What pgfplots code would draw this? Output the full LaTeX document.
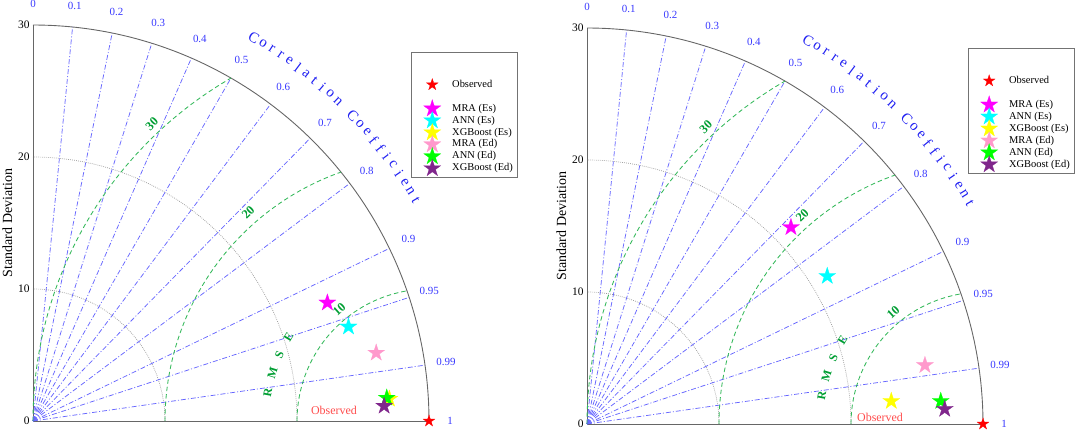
\documentclass[border=0pt]{standalone}
\usepackage{pgfplots}
\pgfplotsset{compat=1.18}
\usepackage{fontspec}
\setmainfont{Liberation Serif}
\usetikzlibrary{calc}

\pgfdeclareplotmark{fstar}{%
 \pgfpathmoveto{\pgfpointpolar{90}{\pgfplotmarksize}}%
 \pgfpathlineto{\pgfpointpolar{126}{0.382\pgfplotmarksize}}%
 \pgfpathlineto{\pgfpointpolar{162}{\pgfplotmarksize}}%
 \pgfpathlineto{\pgfpointpolar{198}{0.382\pgfplotmarksize}}%
 \pgfpathlineto{\pgfpointpolar{234}{\pgfplotmarksize}}%
 \pgfpathlineto{\pgfpointpolar{270}{0.382\pgfplotmarksize}}%
 \pgfpathlineto{\pgfpointpolar{306}{\pgfplotmarksize}}%
 \pgfpathlineto{\pgfpointpolar{342}{0.382\pgfplotmarksize}}%
 \pgfpathlineto{\pgfpointpolar{18}{\pgfplotmarksize}}%
 \pgfpathlineto{\pgfpointpolar{54}{0.382\pgfplotmarksize}}%
 \pgfpathclose
 \pgfusepathqfillstroke}

\definecolor{cline}{rgb}{0.4,0.4,1}
\definecolor{clab}{rgb}{0.22,0.22,1}
\definecolor{ctitle}{rgb}{0.12,0.12,0.95}
\definecolor{gline}{rgb}{0.2,0.72,0.35}
\definecolor{glab}{rgb}{0.0,0.62,0.2}
\definecolor{obslab}{rgb}{1,0.3,0.3}
\definecolor{cmag}{rgb}{1,0,1}
\definecolor{ccyan}{rgb}{0,1,1}
\definecolor{cyel}{rgb}{1,1,0}
\definecolor{cpink}{rgb}{1,0.6,0.8}
\definecolor{cgreen}{rgb}{0,1,0}
\definecolor{cpurp}{rgb}{0.5,0.15,0.55}

\pgfplotsset{
  corrl/.style={forget plot, cline, line width=0.75pt, dash pattern=on 5pt off 2pt on 1pt off 2pt},
  rmsel/.style={forget plot, gline, line width=0.85pt, dash pattern=on 4.5pt off 3pt},
  stdl/.style={forget plot, black!40, line width=0.7pt, dash pattern=on 0.8pt off 1.2pt},
  tstar/.style={only marks, mark=fstar, mark size=9bp,
    mark options={draw=#1, fill=#1, line width=0.2pt},
    legend image code/.code={\begin{pgfinterruptboundingbox}\draw[##1] plot coordinates {(18pt,0pt)};\end{pgfinterruptboundingbox}\path[draw=none,fill=none] (0pt,-5pt) rectangle (36pt,5pt);}},
  tobs/.style={tstar=red, mark size=6.2bp},
  taylor/.style={
    x=13.2bp, y=13.2bp, anchor=south west,
    xmin=0, xmax=30, ymin=0, ymax=30, clip=false,
    axis x line*=bottom, axis y line*=left,
    axis line style={draw=black!60, line width=0.9pt},
    xtick=\empty, ytick={0,10,20,30}, major tick length=0pt,
    /pgf/number format/assume math mode=true,
    yticklabel style={font=\fontsize{11.5}{13}\selectfont},
    ylabel={Standard Deviation},
    ylabel style={font=\fontsize{14}{16}\selectfont, yshift=-1pt},
    legend cell align=left,
    legend style={anchor=north west, draw=black!55, fill=white, line width=0.6pt,
      inner xsep=3pt, inner ysep=2.5pt, font=\fontsize{10.5}{12}\selectfont,
      nodes={draw=none, inner sep=1pt, text height=7.5pt, text depth=2.5pt},
      row sep=0pt, column sep=1pt},
  }
}

\newcommand\taylorbg{%
 \addplot[stdl, domain=0:90, samples=61] ({10*cos(x)},{10*sin(x)});
 \addplot[stdl, domain=0:90, samples=91] ({20*cos(x)},{20*sin(x)});
 \addplot[corrl] coordinates {(0,0) (3,29.850)};
 \addplot[corrl] coordinates {(0,0) (6,29.394)};
 \addplot[corrl] coordinates {(0,0) (9,28.618)};
 \addplot[corrl] coordinates {(0,0) (12,27.495)};
 \addplot[corrl] coordinates {(0,0) (15,25.981)};
 \addplot[corrl] coordinates {(0,0) (18,24)};
 \addplot[corrl] coordinates {(0,0) (21,21.424)};
 \addplot[corrl] coordinates {(0,0) (24,18)};
 \addplot[corrl] coordinates {(0,0) (27,13.077)};
 \addplot[corrl] coordinates {(0,0) (28.5,9.367)};
 \addplot[corrl] coordinates {(0,0) (29.7,4.232)};
 \addplot[forget plot, black!60, line width=0.9pt, domain=0:90, samples=121] ({30*cos(x)},{30*sin(x)});
 \addplot[rmsel, domain=0:80.41, samples=60] ({30-10*cos(x)},{10*sin(x)});
 \addplot[rmsel, domain=0:70.53, samples=80] ({30-20*cos(x)},{20*sin(x)});
 \addplot[rmsel, domain=0:60, samples=80] ({30-30*cos(x)},{30*sin(x)});
 \node[clab, font=\fontsize{11}{12}\selectfont] at (axis cs:0,31.6) {0};
 \node[clab, font=\fontsize{11}{12}\selectfont] at (axis cs:3.16,31.44) {0.1};
 \node[clab, font=\fontsize{11}{12}\selectfont] at (axis cs:6.32,30.96) {0.2};
 \node[clab, font=\fontsize{11}{12}\selectfont] at (axis cs:9.48,30.14) {0.3};
 \node[clab, font=\fontsize{11}{12}\selectfont] at (axis cs:12.64,28.96) {0.4};
 \node[clab, font=\fontsize{11}{12}\selectfont] at (axis cs:15.8,27.37) {0.5};
 \node[clab, font=\fontsize{11}{12}\selectfont] at (axis cs:18.96,25.28) {0.6};
 \node[clab, font=\fontsize{11}{12}\selectfont] at (axis cs:22.12,22.57) {0.7};
 \node[clab, font=\fontsize{11}{12}\selectfont] at (axis cs:25.28,18.96) {0.8};
 \node[clab, font=\fontsize{11}{12}\selectfont] at (axis cs:28.44,13.77) {0.9};
 \node[clab, font=\fontsize{11}{12}\selectfont] at (axis cs:30.02,9.87) {0.95};
 \node[clab, font=\fontsize{11}{12}\selectfont] at (axis cs:31.28,4.46) {0.99};
 \node[clab, font=\fontsize{11}{12}\selectfont] at (axis cs:31.6,0) {1};
 \node[glab, rotate=45, font=\bfseries\fontsize{12.5}{14}\selectfont] at (axis cs:9.0,22.5) {30};
 \node[glab, rotate=44, font=\bfseries\fontsize{12.5}{14}\selectfont] at (axis cs:16.3,15.8) {20};
 \node[glab, rotate=42, font=\bfseries\fontsize{12.5}{14}\selectfont] at (axis cs:23.2,8.45) {10};
 \node[glab, rotate=80, font=\bfseries\fontsize{12}{14}\selectfont] at (axis cs:17.79,2.15) {R};
 \node[glab, rotate=73, font=\bfseries\fontsize{12}{14}\selectfont] at (axis cs:18.14,3.63) {M};
 \node[glab, rotate=66, font=\bfseries\fontsize{12}{14}\selectfont] at (axis cs:18.67,5.04) {S};
 \node[glab, rotate=59, font=\bfseries\fontsize{12}{14}\selectfont] at (axis cs:19.37,6.39) {E};
 \addlegendimage{empty legend}\addlegendentry{}
 \addlegendimage{empty legend}\addlegendentry{}
}

\begin{document}
\begin{tikzpicture}
\useasboundingbox (0,0) rectangle (1075bp,433bp);
% ---------------- left panel ----------------
\begin{axis}[taylor, at={(33bp,12bp)}, legend style={at={(0.9547,0.9317)}}]
 \taylorbg
 \addplot[tobs] coordinates {(30,0)};
 \addlegendentry{Observed}
 \addlegendimage{empty legend}\addlegendentry{}
 \addplot[tstar=cmag]   coordinates {(22.3,8.96)};  \addlegendentry{MRA (Es)}
 \addplot[tstar=ccyan]  coordinates {(23.9,7.14)};  \addlegendentry{ANN (Es)}
 \addplot[tstar=cyel]   coordinates {(27.0,1.67)};  \addlegendentry{XGBoost (Es)}
 \addplot[tstar=cpink]  coordinates {(26.0,5.16)};  \addlegendentry{MRA (Ed)}
 \addplot[tstar=cgreen] coordinates {(26.8,1.75)};  \addlegendentry{ANN (Ed)}
 \addplot[tstar=cpurp]  coordinates {(26.6,1.14)};  \addlegendentry{XGBoost (Ed)}
 \node[obslab, font=\fontsize{12}{14}\selectfont] at (axis cs:22.8,0.84) {Observed};
 \coordinate (O1) at (axis cs:0,0);
\end{axis}
% ---------------- right panel ----------------
\begin{axis}[taylor, at={(587bp,9bp)}, legend style={at={(0.962,0.949)}}]
 \taylorbg
 \addplot[tobs] coordinates {(30,0)};
 \addlegendentry{Observed}
 \addlegendimage{empty legend}\addlegendentry{}
 \addplot[tstar=cmag]   coordinates {(15.45,14.9)}; \addlegendentry{MRA (Es)}
 \addplot[tstar=ccyan]  coordinates {(18.2,11.2)};  \addlegendentry{ANN (Es)}
 \addplot[tstar=cyel]   coordinates {(23.05,1.73)}; \addlegendentry{XGBoost (Es)}
 \addplot[tstar=cpink]  coordinates {(25.6,4.45)};  \addlegendentry{MRA (Ed)}
 \addplot[tstar=cgreen] coordinates {(26.8,1.73)};  \addlegendentry{ANN (Ed)}
 \addplot[tstar=cpurp]  coordinates {(27.1,1.13)};  \addlegendentry{XGBoost (Ed)}
 \node[obslab, font=\fontsize{12}{14}\selectfont] at (axis cs:22.2,0.5) {Observed};
 \coordinate (O2) at (axis cs:0,0);
\end{axis}
% ------------- arc titles -------------
\foreach \O in {O1,O2}{%
 \foreach \ch/\i in {C/0,o/1,r/2,r/3,e/4,l/5,a/6,t/7,i/8,o/9,n/10,C/12,o/13,e/14,f/15,f/16,i/17,c/18,i/19,e/20,n/21,t/22}{%
  \pgfmathsetmacro\ang{60-\i*30/22}
  \node[ctitle, font=\fontsize{15}{17}\selectfont, rotate=\ang-90] at ($(\O)+(\ang:442bp)$) {\ch};
 }}
\end{tikzpicture}
\end{document}
